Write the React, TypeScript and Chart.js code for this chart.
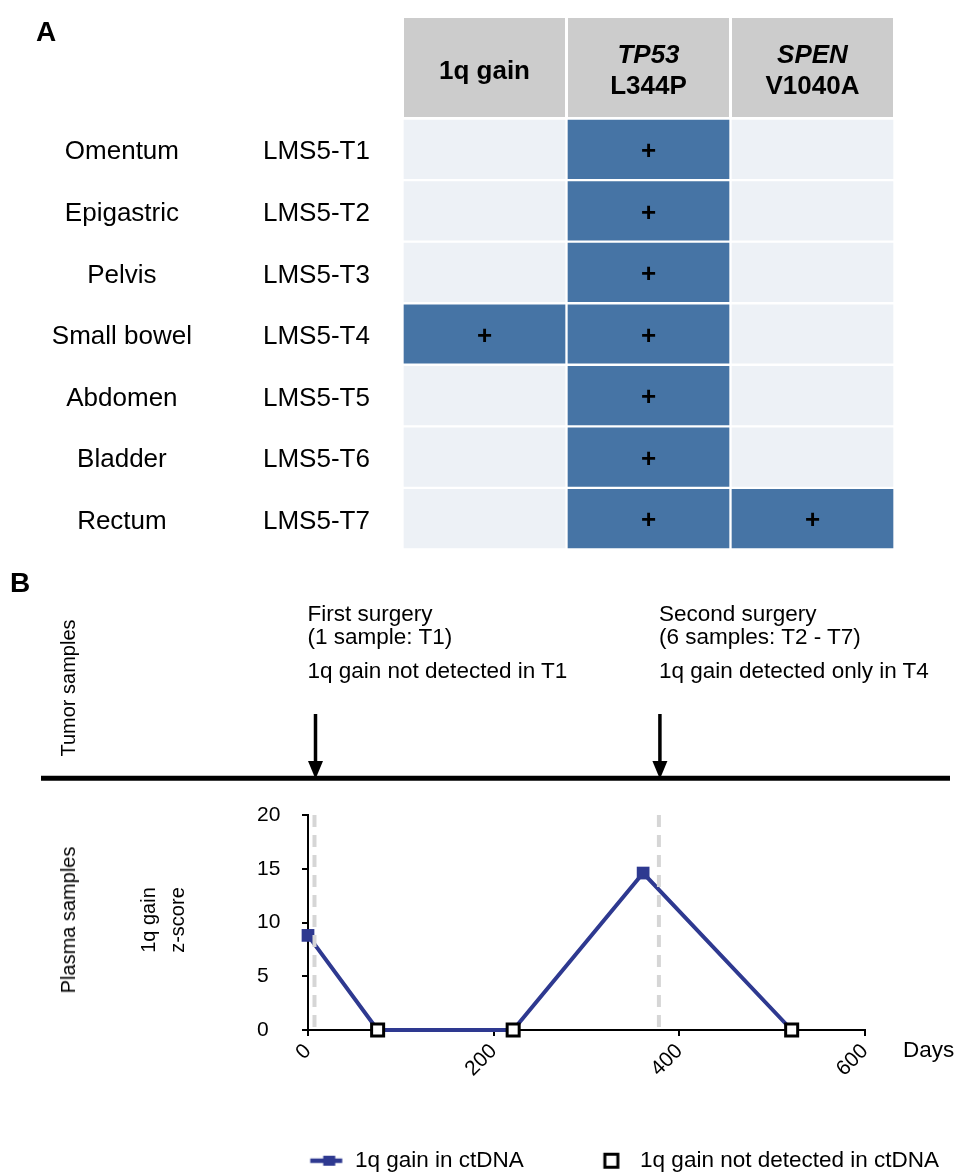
import React, { useEffect, useRef } from "react";
import { Chart, registerables } from "chart.js";

Chart.register(...registerables);

const FONT = "'Liberation Sans', Arial, Helvetica, sans-serif";
const BLUE = "#4674A5";
const LIGHT = "#EDF1F6";
const HEADER_GRAY = "#CCCCCC";
const NAVY = "#2E3990";
const DASH_GRAY = "#D6D6D6";

// ---------- Panel A data ----------
const tumorSites = ["Omentum", "Epigastric", "Pelvis", "Small bowel", "Abdomen", "Bladder", "Rectum"];
const sampleIds = ["LMS5-T1", "LMS5-T2", "LMS5-T3", "LMS5-T4", "LMS5-T5", "LMS5-T6", "LMS5-T7"];
const alterationGenes = ["", "TP53", "SPEN"];
const alterationNames = ["1q gain", "L344P", "V1040A"];
const gain1q = [0, 0, 0, 1, 0, 0, 0];
const tp53L344P = [1, 1, 1, 1, 1, 1, 1];
const spenV1040A = [0, 0, 0, 0, 0, 0, 1];
const alterationFlags = [gain1q, tp53L344P, spenV1040A];

// ---------- Panel B data ----------
const plasmaDays = [0, 75, 221, 361, 521];
const zScores = [8.8, 0, 0, 14.6, 0];
const surgeryDays = [7, 378];
const surgeryTitles = ["First surgery", "Second surgery"];
const surgerySamples = ["(1 sample: T1)", "(6 samples: T2 - T7)"];
const surgeryFindings = ["1q gain not detected in T1", "1q gain detected only in T4"];
const legendLabels = ["1q gain in ctDNA", "1q gain not detected in ctDNA"];
const xMin = 0;
const xMax = 600;
const xStep = 200;
const yMin = 0;
const yMax = 20;
const yStep = 5;

function makeMarker(kind: "filled" | "open"): HTMLCanvasElement {
  const c = document.createElement("canvas");
  c.width = 101;
  c.height = 24;
  const g = c.getContext("2d")!;
  const cx = 50.5 + 33;
  const cy = 12;
  if (kind === "filled") {
    g.strokeStyle = NAVY;
    g.lineWidth = 4.5;
    g.beginPath();
    g.moveTo(cx - 16, cy);
    g.lineTo(cx + 16, cy);
    g.stroke();
    g.fillStyle = NAVY;
    g.fillRect(cx + 3 - 6, cy - 5, 12, 10);
  } else {
    g.fillStyle = "#fff";
    g.fillRect(cx - 7, cy - 7, 14, 14);
    g.strokeStyle = "#000";
    g.lineWidth = 3;
    g.strokeRect(cx - 6.5, cy - 6.5, 13, 13);
  }
  return c;
}

const headerPlugin = {
  id: "headerCells",
  afterDraw(chart: any) {
    const ctx = chart.ctx;
    const xs = chart.scales.x;
    const top = 18;
    const bottom = chart.chartArea.top - 1.5;
    ctx.save();
    alterationNames.forEach((name, c) => {
      const x0 = xs.getPixelForValue(c) + 1.5;
      const x1 = xs.getPixelForValue(c + 1) - 1.5;
      ctx.fillStyle = HEADER_GRAY;
      ctx.fillRect(x0, top, x1 - x0, bottom - top);
      const cx = (x0 + x1) / 2;
      ctx.fillStyle = "#000";
      ctx.textAlign = "center";
      ctx.textBaseline = "alphabetic";
      const gene = alterationGenes[c];
      if (gene) {
        ctx.font = `italic bold 26px ${FONT}`;
        ctx.fillText(gene, cx, 62.7);
        ctx.font = `bold 26px ${FONT}`;
        ctx.fillText(name, cx, 94);
      } else {
        ctx.font = `bold 26px ${FONT}`;
        ctx.fillText(name, cx, 79);
      }
    });
    ctx.restore();
  },
};

const plusPlugin = {
  id: "plusMarks",
  afterDatasetsDraw(chart: any) {
    const ctx = chart.ctx;
    ctx.save();
    ctx.fillStyle = "#000";
    ctx.font = `bold 26px ${FONT}`;
    ctx.textAlign = "center";
    ctx.textBaseline = "middle";
    alterationFlags.forEach((flags, di) => {
      chart.getDatasetMeta(di).data.forEach((el: any, i: number) => {
        if (!flags[i]) return;
        const p = el.getCenterPoint();
        ctx.fillText("+", p.x, p.y + 2.5);
      });
    });
    ctx.restore();
  },
};

const timelinePlugin = {
  id: "timeline",
  afterDraw(chart: any) {
    const ctx = chart.ctx;
    const xs = chart.scales.x;
    ctx.save();
    ctx.strokeStyle = "#000";
    ctx.fillStyle = "#000";
    ctx.lineWidth = 5;
    ctx.beginPath();
    ctx.moveTo(41, 218.3);
    ctx.lineTo(950, 218.3);
    ctx.stroke();
    surgeryDays.forEach((d) => {
      const px = xs.getPixelForValue(d) + 1;
      ctx.lineWidth = 3.5;
      ctx.beginPath();
      ctx.moveTo(px, 154);
      ctx.lineTo(px, 204);
      ctx.stroke();
      ctx.beginPath();
      ctx.moveTo(px - 7.5, 201);
      ctx.lineTo(px + 7.5, 201);
      ctx.lineTo(px, 219);
      ctx.closePath();
      ctx.fill();
    });
    ctx.restore();
  },
};

const hiddenAxis = (position: string, weight: number, size: number) => ({
  type: "linear",
  position,
  weight,
  display: true,
  grid: { display: false, drawTicks: false },
  border: { display: false },
  ticks: { display: false, padding: 0 },
  afterFit: (s: any) => {
    s.width = size;
  },
});

export default function App() {
  const tableRef = useRef<HTMLCanvasElement | null>(null);
  const lineRef = useRef<HTMLCanvasElement | null>(null);

  useEffect(() => {
    const tableChart = new Chart(tableRef.current!, {
      type: "bar",
      data: {
        labels: sampleIds,
        datasets: alterationFlags.map((flags, c) => ({
          label: alterationNames[c],
          data: flags.map(() => [c, c + 1]),
          backgroundColor: flags.map((f) => (f ? BLUE : LIGHT)),
          borderColor: "#FFFFFF",
          borderWidth: 1.5,
          borderSkipped: false,
          grouped: false,
          categoryPercentage: 1,
          barPercentage: 1,
          yAxisID: "y",
        })) as any,
      },
      options: {
        indexAxis: "y",
        responsive: false,
        animation: false,
        events: [],
        layout: { padding: { top: 118.5, bottom: 50.5, left: 0, right: 59.5 } },
        plugins: { legend: { display: false }, tooltip: { enabled: false } },
        scales: {
          x: { type: "linear", min: 0, max: 3, display: false },
          y: {
            type: "category",
            position: "left",
            weight: 1,
            offset: true,
            grid: { display: false, drawTicks: false },
            border: { display: false },
            ticks: { crossAlign: "far", padding: 0, labelOffset: 3, color: "#000", font: { family: FONT, size: 26 } },
            afterFit: (s: any) => {
              s.width = 139.5;
            },
          },
          yGap: { ...hiddenAxis("left", 2, 71), type: "category", labels: tumorSites, offset: true },
          ySite: {
            type: "category",
            labels: tumorSites,
            position: "left",
            weight: 3,
            offset: true,
            grid: { display: false, drawTicks: false },
            border: { display: false },
            ticks: { crossAlign: "center", padding: 0, labelOffset: 3, color: "#000", font: { family: FONT, size: 26 } },
            afterFit: (s: any) => {
              s.width = 192;
            },
          },
        } as any,
      },
      plugins: [headerPlugin, plusPlugin],
    });

    const filledMarker = makeMarker("filled");
    const openMarker = makeMarker("open");

    const lineChart = new Chart(lineRef.current!, {
      type: "scatter",
      data: {
        datasets: [
          {
            label: legendLabels[0],
            data: plasmaDays.map((d, i) => ({ x: d, y: zScores[i] })),
            showLine: true,
            borderColor: NAVY,
            borderWidth: 4,
            backgroundColor: NAVY,
            pointStyle: "rect",
            pointRadius: zScores.map((z) => (z > 0 ? 9 : 0)),
            pointBackgroundColor: NAVY,
            pointBorderWidth: 0,
            tension: 0,
            clip: false,
            order: 3,
          },
          {
            label: legendLabels[1],
            data: plasmaDays
              .map((d, i) => ({ x: d, y: zScores[i] }))
              .filter((p) => p.y === 0),
            showLine: false,
            pointStyle: "rect",
            pointRadius: 8.5,
            pointBackgroundColor: "#FFFFFF",
            pointBorderColor: "#000000",
            pointBorderWidth: 3,
            clip: false,
            order: 1,
          },
          ...surgeryDays.map((d) => ({
            label: "surgery",
            data: [
              { x: d, y: yMax },
              { x: d, y: yMin },
            ],
            showLine: true,
            borderColor: DASH_GRAY,
            borderWidth: 4,
            borderDash: [12, 8],
            pointRadius: 0,
            clip: false,
            order: 2,
          })),
        ] as any,
      },
      options: {
        responsive: false,
        animation: false,
        events: [],
        layout: { padding: { top: 255, left: 238.75, right: 0, bottom: 18 } },
        plugins: {
          tooltip: { enabled: false },
          legend: {
            display: true,
            position: "bottom",
            align: "start",
            labels: {
              usePointStyle: true,
              pointStyleWidth: 101,
              padding: 4,
              color: "#000",
              font: { family: FONT, size: 22.5 },
              generateLabels: () => [
                {
                  text: legendLabels[0],
                  pointStyle: filledMarker,
                  fillStyle: NAVY,
                  strokeStyle: NAVY,
                  lineWidth: 0,
                  hidden: false,
                  datasetIndex: 0,
                  fontColor: "#000",
                },
                {
                  text: legendLabels[1],
                  pointStyle: openMarker,
                  fillStyle: "#fff",
                  strokeStyle: "#000",
                  lineWidth: 0,
                  hidden: false,
                  datasetIndex: 1,
                  fontColor: "#000",
                },
              ],
            },
          } as any,
        },
        scales: {
          x: {
            type: "linear",
            position: "bottom",
            min: xMin,
            max: xMax,
            ticks: {
              stepSize: xStep,
              minRotation: 45,
              maxRotation: 45,
              padding: 3,
              color: "#000",
              font: { family: FONT, size: 21 },
            },
            grid: { display: true, drawOnChartArea: false, drawTicks: true, tickLength: 6, color: "#000", lineWidth: 2 },
            border: { display: true, color: "#000", width: 2 },
            afterFit: (s: any) => {
              s.height = 115.5;
            },
          },
          y: {
            type: "linear",
            position: "left",
            weight: 1,
            min: yMin,
            max: yMax,
            ticks: {
              stepSize: yStep,
              crossAlign: "far",
              color: "#000",
              font: { family: FONT, size: 21 },
            },
            grid: { display: true, drawOnChartArea: false, drawTicks: true, tickLength: 6, color: "#000", lineWidth: 2 },
            border: { display: true, color: "#000", width: 2 },
            afterFit: (s: any) => {
              s.width = 51;
            },
          },
          yL: hiddenAxis("left", 5, 18.25),
          yR: hiddenAxis("right", 0, 89),
        } as any,
      },
      plugins: [timelinePlugin],
    });

    return () => {
      tableChart.destroy();
      lineChart.destroy();
    };
  }, []);

  const txt: React.CSSProperties = {
    position: "absolute",
    whiteSpace: "nowrap",
    lineHeight: 1,
    color: "#000",
  };
  const rot = (cx: number, cy: number, size: number): React.CSSProperties => ({
    ...txt,
    left: cx,
    top: cy,
    fontSize: size,
    transform: "translate(-50%, -50%) rotate(-90deg)",
  });

  const surgeryLefts = [307.5, 659];

  return (
    <div
      style={{
        position: "fixed",
        left: 0,
        top: 0,
        width: 954,
        height: 1172,
        overflow: "hidden",
        background: "#fff",
        fontFamily: FONT,
      }}
    >
      <canvas ref={lineRef} width={954} height={640} style={{ position: "absolute", left: 0, top: 560 }} />
      <canvas ref={tableRef} width={954} height={600} style={{ position: "absolute", left: 0, top: 0 }} />

      <div style={{ ...txt, left: 36, top: 18.3, fontSize: 28, fontWeight: "bold" }}>A</div>
      <div style={{ ...txt, left: 10, top: 569.3, fontSize: 28, fontWeight: "bold" }}>B</div>

      {surgeryTitles.map((t, i) => (
        <React.Fragment key={t}>
          <div style={{ ...txt, left: surgeryLefts[i], top: 602.5, fontSize: 22.5 }}>{t}</div>
          <div style={{ ...txt, left: surgeryLefts[i], top: 625.5, fontSize: 22.5 }}>{surgerySamples[i]}</div>
          <div style={{ ...txt, left: surgeryLefts[i], top: 659.5, fontSize: 22.5 }}>{surgeryFindings[i]}</div>
        </React.Fragment>
      ))}

      <div style={rot(68, 688, 20)}>Tumor samples</div>
      <div style={rot(67.5, 920, 20)}>Plasma samples</div>
      <div style={rot(148.3, 920, 20)}>1q gain</div>
      <div style={rot(176.7, 920, 20)}>z-score</div>

      <div style={{ ...txt, left: 903, top: 1038.6, fontSize: 22.5 }}>Days</div>
    </div>
  );
}
